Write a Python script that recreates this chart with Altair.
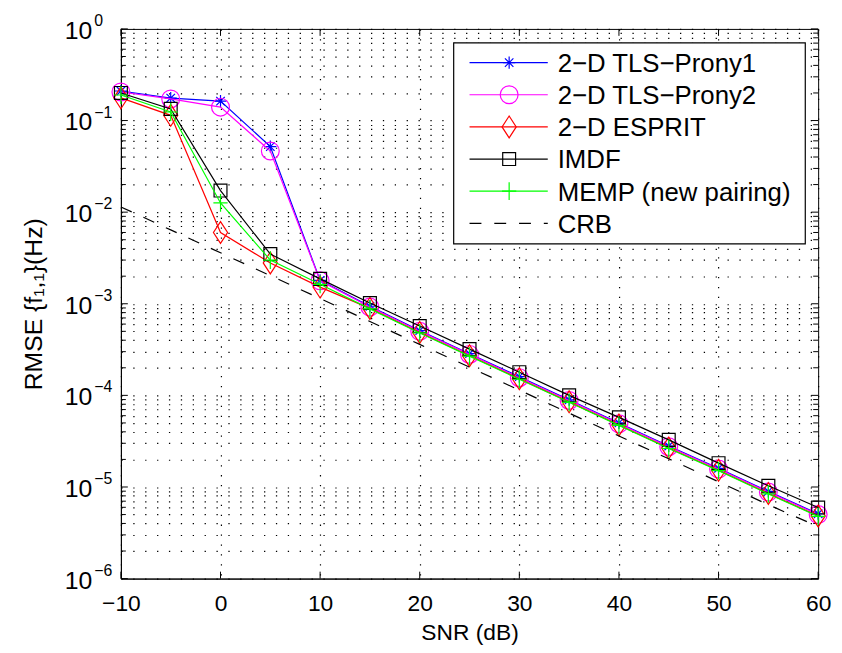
import altair as alt
import pandas as pd

# ---------------- data ----------------
snr = [-10, -5, 0, 5, 10, 15, 20, 25, 30, 35, 40, 45, 50, 55, 60]

prony1 = [0.21, 0.176, 0.163, 0.052, 0.00180, 9.4e-4, 5.1e-4, 2.85e-4, 1.6e-4,
          8.95e-5, 5.0e-5, 2.8e-5, 1.6e-5, 8.95e-6, 5.1e-6]
prony2 = [0.205, 0.172, 0.140, 0.0465, 0.00178, 9.2e-4, 5.0e-4, 2.8e-4, 1.56e-4,
          8.8e-5, 4.9e-5, 2.75e-5, 1.57e-5, 8.8e-6, 5.0e-6]
esprit = [0.177, 0.114, 0.0060, 0.00279, 0.00152, 8.9e-4, 4.85e-4, 2.71e-4, 1.52e-4,
          8.5e-5, 4.75e-5, 2.66e-5, 1.52e-5, 8.5e-6, 4.83e-6]
imdf = [0.20, 0.134, 0.0172, 0.00348, 0.00187, 1.02e-3, 5.71e-4, 3.2e-4, 1.79e-4,
        1.0e-4, 5.75e-5, 3.27e-5, 1.82e-5, 1.03e-5, 5.96e-6]
memp = [0.19, 0.124, 0.0126, 0.0030, 0.00163, 8.8e-4, 4.8e-4, 2.68e-4, 1.5e-4,
        8.4e-5, 4.7e-5, 2.63e-5, 1.51e-5, 8.4e-6, 4.78e-6]
crb = [0.0114, 6.4e-3, 3.6e-3, 2.03e-3, 1.14e-3, 6.4e-4, 3.6e-4, 2.03e-4, 1.14e-4,
       6.4e-5, 3.6e-5, 2.03e-5, 1.14e-5, 6.4e-6, 3.7e-6]

series_names = ["2\u2212D TLS\u2212Prony1", "2\u2212D TLS\u2212Prony2", "2\u2212D ESPRIT",
                "IMDF", "MEMP (new pairing)", "CRB"]
series_values = [prony1, prony2, esprit, imdf, memp, crb]

x_ticks = [-10, 0, 10, 20, 30, 40, 50, 60]
y_decades = [1, 1e-1, 1e-2, 1e-3, 1e-4, 1e-5, 1e-6]
y_exponents = ["0", "\u22121", "\u22122", "\u22123", "\u22124", "\u22125", "\u22126"]

# ---------------- styles ----------------
colors = ["#0000ff", "#ff00ff", "#ff0000", "#000000", "#00ff00", "#000000"]
star = "M-1,0L1,0M0,-1L0,1M-0.7,-0.7L0.7,0.7M-0.7,0.7L0.7,-0.7"
plus = "M-0.8,0L0.8,0M0,-1L0,1"
diamond = "M0,-1L0.65,0L0,1L-0.65,0Z"
shapes = [star, "circle", diamond, "square", plus, None]
sizes = [150, 324, 484, 169, 324, 0]
dashes = [None, None, None, None, None, [12, 13]]

W, H = 704, 555
FONT = "Liberation Sans"

y_minor = []
for d in y_decades[1:]:
    for m in range(1, 10):
        y_minor.append(m * d)
y_minor.append(1.0)
y_minor_only = [v for v in y_minor if v not in y_decades]

x_enc = alt.X(
    "snr:Q",
    scale=alt.Scale(domain=[-10, 60], nice=False, zero=False),
    axis=alt.Axis(
        values=x_ticks, grid=True, ticks=False, title="SNR (dB)",
        labelExpr="replace(datum.label, '-', '\u2212')",
        labelFontSize=23, labelPadding=14, labelColor="black", labelFont=FONT,
        labelFlush=False,
        gridColor="black", gridDash=[1.3, 8.7], gridWidth=1.2, gridOpacity=1,
        domainColor="black", domainWidth=1,
        titleFontSize=23, titleFontWeight="normal", titleColor="black", titleFont=FONT,
        titleX=W / 2, titleY=61, titleBaseline="alphabetic", titleAlign="center",
    ),
)
y_enc = alt.Y(
    "rmse:Q",
    scale=alt.Scale(type="log", domain=[1e-6, 1], nice=False),
    axis=alt.Axis(
        values=y_minor, grid=True, ticks=False, labels=False,
        title="RMSE {f\u2081,\u2081}(Hz)",
        gridColor="black", gridDash=[1.3, 10.7], gridWidth=1.2, gridOpacity=1,
        domainColor="black", domainWidth=1,
        titleFontSize=25, titleFontWeight="normal", titleColor="black", titleFont=FONT,
        titleAngle=270, titleX=-80, titleY=H / 2, titleBaseline="alphabetic",
        titleAlign="center",
    ),
)

rows = []
for name, vals in zip(series_names, series_values):
    for s, v in zip(snr, vals):
        rows.append({"series": name, "snr": s, "rmse": v})
df = pd.DataFrame(rows)

layers = []

# y-axis labels 10^k with superscript exponent
df_ylab = pd.DataFrame({"rmse": y_decades, "exp": y_exponents})
layers.append(alt.Chart(df_ylab).mark_text(
    align="right", baseline="middle", fontSize=25, font=FONT, color="black", dy=2
).encode(x=alt.value(-29), y=y_enc, text=alt.value("10")))
layers.append(alt.Chart(df_ylab).mark_text(
    align="left", baseline="middle", fontSize=16, font=FONT, color="black", dy=-8
).encode(x=alt.value(-27), y=y_enc, text="exp:N"))

# inward ticks (box style)
df_ymaj = pd.DataFrame({"rmse": y_decades})
df_ymin = pd.DataFrame({"rmse": y_minor_only})
df_xt = pd.DataFrame({"snr": x_ticks})
for dfx, ln in [(df_ymaj, 7), (df_ymin, 5)]:
    layers.append(alt.Chart(dfx).mark_rule(color="black", strokeWidth=1).encode(
        x=alt.value(0), x2=alt.value(ln), y=y_enc))
    layers.append(alt.Chart(dfx).mark_rule(color="black", strokeWidth=1).encode(
        x=alt.value(W), x2=alt.value(W - ln), y=y_enc))
layers.append(alt.Chart(df_xt).mark_rule(color="black", strokeWidth=1).encode(
    x=x_enc, y=alt.value(H), y2=alt.value(H - 7)))
layers.append(alt.Chart(df_xt).mark_rule(color="black", strokeWidth=1).encode(
    x=x_enc, y=alt.value(0), y2=alt.value(7)))

# data series
for name, c, shp, sz, dash in zip(series_names, colors, shapes, sizes, dashes):
    src = df[df.series == name]
    line_kwargs = dict(color=c, strokeWidth=1.2)
    if dash:
        line_kwargs["strokeDash"] = dash
    layers.append(alt.Chart(src).mark_line(**line_kwargs).encode(x=x_enc, y=y_enc))
    if shp:
        layers.append(alt.Chart(src).mark_point(
            shape=shp, size=sz, color=c, filled=False, strokeWidth=1.2, opacity=1
        ).encode(x=x_enc, y=y_enc))

# legend box
box = pd.DataFrame({"k": [0]})
layers.append(alt.Chart(box).mark_rect(fill="white", stroke="black", strokeWidth=1.2).encode(
    x=alt.value(336), x2=alt.value(691), y=alt.value(14), y2=alt.value(217)))
row_y0, row_dy = 34, 32.46
for i, (name, c, shp, sz, dash) in enumerate(zip(series_names, colors, shapes, sizes, dashes)):
    yy = row_y0 + i * row_dy
    rk = dict(color=c, strokeWidth=1.2)
    if dash:
        rk["strokeDash"] = dash
    layers.append(alt.Chart(box).mark_rule(**rk).encode(
        x=alt.value(352), x2=alt.value(431), y=alt.value(yy)))
    if shp:
        layers.append(alt.Chart(box).mark_point(
            shape=shp, size=sz, color=c, filled=False, strokeWidth=1.2, opacity=1
        ).encode(x=alt.value(392), y=alt.value(yy)))
    layers.append(alt.Chart(box).mark_text(
        align="left", baseline="middle", fontSize=26, font=FONT, color="black", dy=1.5
    ).encode(x=alt.value(441), y=alt.value(yy), text=alt.value(name)))

chart = alt.layer(*layers).properties(
    width=W, height=H,
    autosize=alt.AutoSizeParams(type="none"),
    padding={"left": 114, "top": 18, "right": 16, "bottom": 72},
    background="white",
).configure_view(stroke="black", strokeWidth=1)

chart.save("out.html", embed_options={"renderer": "svg", "actions": False})
